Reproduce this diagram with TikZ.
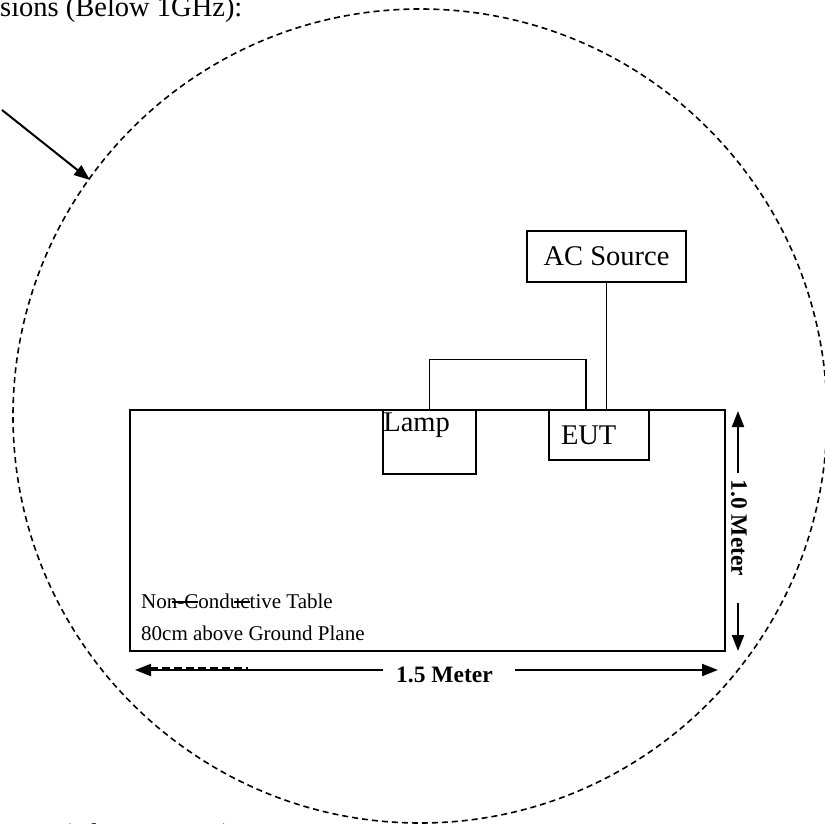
\documentclass[tikz,border=0pt]{standalone}
\usepackage{fontspec}
\setmainfont{Liberation Serif}
\usetikzlibrary{arrows.meta}

\begin{document}
\begin{tikzpicture}[x=1pt,y=-1pt,
    box/.style={draw,line width=1.6pt,inner sep=0pt},
    wire/.style={line width=1.3pt},
    dim/.style={line width=2pt,-{Triangle[length=16pt,width=12pt]}},
    big/.style={font=\fontsize{28.5}{30}\selectfont},
    small/.style={font=\fontsize{21}{24}\selectfont,anchor=base west,inner sep=0pt},
    dimtext/.style={font=\fontsize{23.5}{26}\selectfont\bfseries,inner sep=0pt}]
    \useasboundingbox (0,0) rectangle (825,824);
    \clip (0,0) rectangle (825,824);
    \node[big,anchor=base west,inner sep=0pt] (below) at (0,17) {sions (Below 1GHz):};
    \node[big,anchor=base west,inner sep=0pt] (above) at (-1,843) {tions (Above 1GHz):};
    \draw[dash pattern=on 6pt off 4pt,line width=1.6pt] (420,416) circle[radius=407pt];
    \coordinate (ptail) at (2,110);
    \coordinate (ptip) at (90,180);
    \draw[line width=2pt,-{Triangle[length=16pt,width=12pt]}] (ptail) -- (ptip);
    \node[box,line width=2pt,minimum width=595pt,minimum height=241pt] (table) at (427.5,530.5) {};
    \node[small] (tname) at (141,608) {Non-Conductive Table};
    \node[small] (theight) at (141,640) {80cm above Ground Plane};
    \coordinate (s1) at (172,602); \coordinate (s2) at (250,602);
    \draw[line width=1.2pt,dash pattern=on 26pt off 36pt] (s1) -- (s2);
    \node[box,minimum width=93pt,minimum height=64pt] (lamp) at (429.5,442) {};
    \node[big,anchor=north west,inner xsep=1pt,inner ysep=3pt] (lamptext) at (lamp.north west) {Lamp};
    \node[box,big,minimum height=50pt,text width=76pt,inner xsep=12pt,align=left] (eut) at (599,435) {EUT};
    \node[box,line width=2pt,big,minimum width=159pt,minimum height=51pt] (ac) at (606.5,256.5) {AC Source};
    \draw[wire] (ac.south) -- (ac.south |- eut.north);
    \draw[wire] (lamp.north) -- ++(0,-50) -| ([xshift=-13pt]eut.north);
    \node[dimtext,rotate=-90] (vlabel) at (739,528) {1.0 Meter};
    \coordinate (va) at (738,473); \coordinate (vtop) at (738,411);
    \coordinate (vb) at (738,603); \coordinate (vbot) at (738,651);
    \draw[dim] (va) -- (vtop);
    \draw[dim] (vb) -- (vbot);
    \node[dimtext,anchor=base] (hlabel) at (444.5,682) {1.5 Meter};
    \coordinate (ha) at (383,670); \coordinate (hleft) at (135,670);
    \coordinate (hb) at (515,670); \coordinate (hright) at (718,670);
    \draw[dim] (ha) -- (hleft);
    \draw[dim] (hb) -- (hright);
    \coordinate (d1) at (150,668); \coordinate (d2) at (248,668);
    \draw[line width=2.2pt,dash pattern=on 8pt off 4pt] (d1) -- (d2);
\end{tikzpicture}
\end{document}
